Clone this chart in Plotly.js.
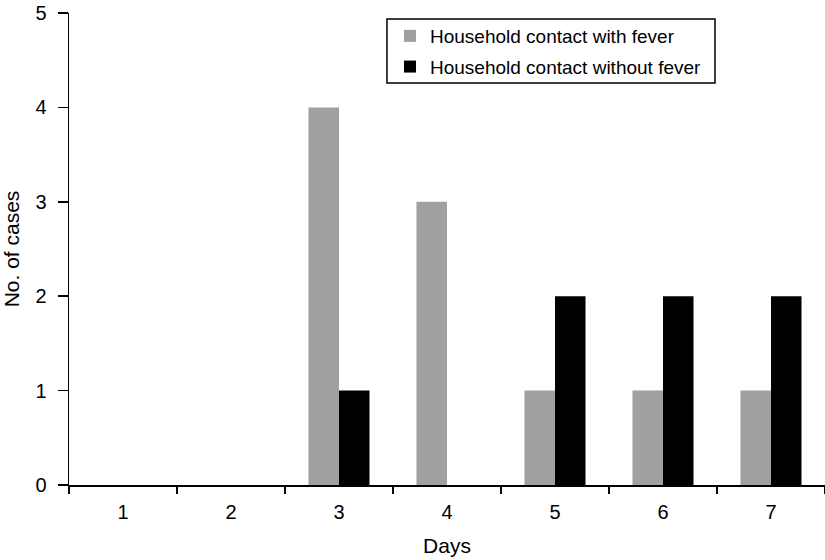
<!DOCTYPE html>
<html>
<head>
<meta charset="utf-8">
<script src="https://cdn.plot.ly/plotly-3.0.1.min.js"></script>
<style>html,body{margin:0;padding:0;background:#fff;}#chart{width:825px;height:560px;}</style>
</head>
<body>
<div id="chart"></div>
<script>
const days = ["1", "2", "3", "4", "5", "6", "7"];
const withFever = [0, 0, 4, 3, 1, 1, 1];
const withoutFever = [0, 0, 1, 0, 2, 2, 2];
const seriesNames = ["Household contact with fever", "Household contact without fever"];
const yTicks = [0, 1, 2, 3, 4, 5];

const fam = "Liberation Sans, Arial, Helvetica, sans-serif";
const font = {family: fam, size: 20, color: "#000"};

const data = [
  {type: "bar", x: days, y: withFever, name: seriesNames[0], legendgroup: "g1",
   marker: {color: "#a0a0a0", line: {width: 0}}},
  {type: "bar", x: days, y: withoutFever, name: seriesNames[1], legendgroup: "g2",
   marker: {color: "#000000", line: {width: 0}}}
];

const layout = {
  width: 825, height: 560,
  margin: {l: 69, r: 0, t: 13, b: 75},
  paper_bgcolor: "#fff", plot_bgcolor: "#fff",
  font: font,
  barmode: "group", bargap: 0.435, bargroupgap: 0,
  showlegend: true,
  legend: {
    x: 0.4246, y: 0.9915, xanchor: "left", yanchor: "top",
    borderwidth: 0, bgcolor: "rgba(0,0,0,0)",
    font: {family: fam, size: 19, color: "#000"},
    tracegroupgap: 3,
    traceorder: "grouped"
  },
  shapes: [{
    type: "rect", xref: "paper", yref: "paper",
    x0: 0.4206, x1: 0.8545, y0: 0.8517, y1: 0.9873,
    line: {color: "#000", width: 1.5}, fillcolor: "rgba(0,0,0,0)"
  }],
  xaxis: {
    type: "category", categoryarray: days,
    tickson: "boundaries", ticks: "outside", ticklen: 7, tickwidth: 1.5, tickcolor: "#000",
    ticklabelstandoff: 8,
    showline: true, linecolor: "#000", linewidth: 1.5,
    showgrid: false, zeroline: false,
    tickfont: {family: fam, size: 20},
    title: {text: "Days", font: {family: fam, size: 21}, standoff: 17}
  },
  yaxis: {
    range: [0, 5], tickvals: yTicks, ticktext: yTicks.map(String),
    ticks: "outside", ticklen: 10, tickwidth: 1.5, tickcolor: "#000",
    ticklabelstandoff: 7,
    showline: true, linecolor: "#000", linewidth: 1.5,
    showgrid: false, zeroline: false,
    tickfont: {family: fam, size: 20},
    title: {text: "No. of cases", font: {family: fam, size: 21}, standoff: 14}
  }
};

Plotly.newPlot("chart", data, layout, {displayModeBar: false, staticPlot: true});
</script>
</body>
</html>
